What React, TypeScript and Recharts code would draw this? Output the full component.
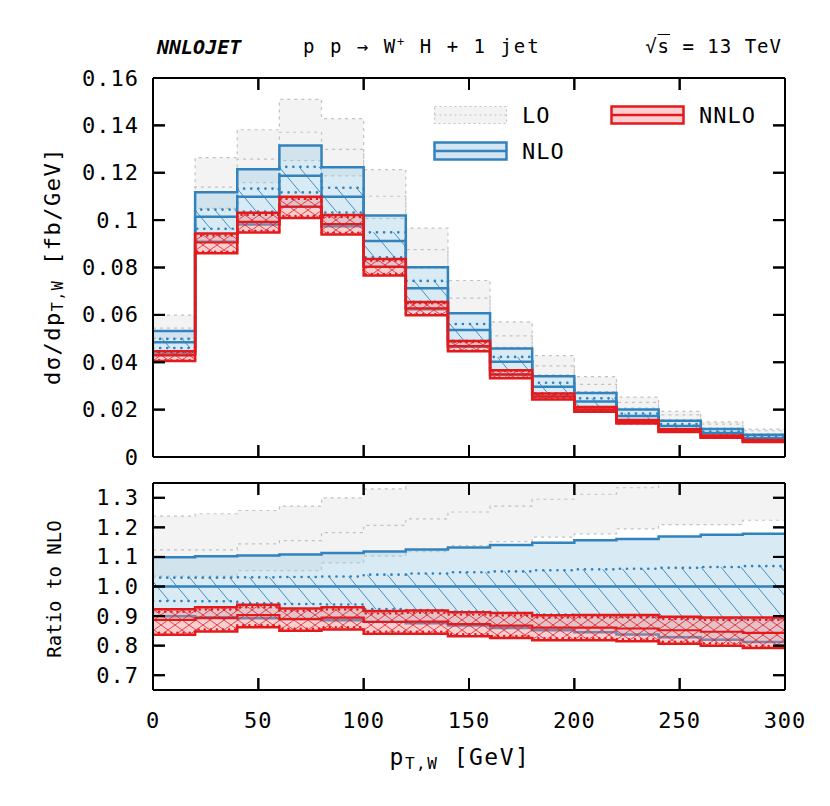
import React from "react";
import { ComposedChart, Area, XAxis, YAxis, Legend, ReferenceLine } from "recharts";

// p_T,W bins (GeV): lower edges, the last bin closes at 300
const binLow = [0, 20, 40, 60, 80, 100, 120, 140, 160, 180, 200, 220, 240, 260, 280];
const binEnd = 300;

// NLO central value, dσ/dp_T,W in fb/GeV
const nloCentral = [0.0484, 0.1014, 0.1099, 0.1187, 0.1099, 0.0912, 0.0712, 0.0536, 0.0402, 0.0297, 0.0234, 0.0173, 0.0131, 0.0101, 0.008];

// everything below is read as a ratio to the NLO central value
const loHi = [1.238, 1.246, 1.257, 1.272, 1.3, 1.33, 1.357, 1.39, 1.42, 1.44, 1.45, 1.46, 1.47, 1.47, 1.47];
const loMid = [1.124, 1.124, 1.144, 1.155, 1.182, 1.207, 1.229, 1.252, 1.272, 1.295, 1.312, 1.334, 1.355, 1.37, 1.385];
const loLo = [1.035, 1.035, 1.054, 1.054, 1.08, 1.103, 1.118, 1.138, 1.152, 1.167, 1.178, 1.195, 1.209, 1.209, 1.224];

const nloHi = [1.099, 1.102, 1.105, 1.108, 1.113, 1.118, 1.125, 1.132, 1.14, 1.148, 1.156, 1.161, 1.169, 1.175, 1.178];
const nloInHi = [1.03, 1.03, 1.031, 1.032, 1.034, 1.04, 1.044, 1.048, 1.051, 1.055, 1.058, 1.06, 1.063, 1.066, 1.069];
const nloInLo = [0.951, 0.95, 0.943, 0.941, 0.939, 0.924, 0.92, 0.915, 0.91, 0.905, 0.901, 0.898, 0.895, 0.892, 0.889];
const nloLo = [0.899, 0.896, 0.893, 0.89, 0.886, 0.881, 0.876, 0.868, 0.86, 0.852, 0.845, 0.838, 0.828, 0.82, 0.812];

const nnloHi = [0.923, 0.93, 0.938, 0.926, 0.93, 0.917, 0.919, 0.913, 0.91, 0.903, 0.904, 0.904, 0.898, 0.895, 0.895];
const nnloInHi = [0.915, 0.922, 0.93, 0.918, 0.922, 0.909, 0.911, 0.905, 0.902, 0.895, 0.896, 0.896, 0.89, 0.887, 0.887];
const nnloMid = [0.887, 0.893, 0.903, 0.89, 0.895, 0.88, 0.881, 0.873, 0.868, 0.861, 0.861, 0.858, 0.852, 0.847, 0.843];
const nnloInLo = [0.844, 0.855, 0.869, 0.857, 0.862, 0.847, 0.847, 0.839, 0.833, 0.825, 0.825, 0.822, 0.813, 0.807, 0.799];
const nnloLo = [0.837, 0.848, 0.862, 0.85, 0.855, 0.84, 0.84, 0.832, 0.826, 0.818, 0.818, 0.815, 0.806, 0.8, 0.792];

const xTicks = [0, 50, 100, 150, 200, 250, 300];
const mainTicks = [0, 0.02, 0.04, 0.06, 0.08, 0.1, 0.12, 0.14, 0.16];
const ratioTicks = [0.7, 0.8, 0.9, 1.0, 1.1, 1.2, 1.3];

const FONT = '"DejaVu Sans Mono", monospace';
const BLUE = "#3282be";
const RED = "#e31a1c";
const GREY = "#c2c2c2";

// layout (svg coordinates of each chart)
const PLOT_LEFT = 153;
const PLOT_RIGHT = 785;
const MAIN_TOP = 78;
const MAIN_BOTTOM = 457;
const RATIO_TOP = 13;
const RATIO_BOTTOM = 220;
const TICK_LEN = 12;

const X_DOMAIN = [0, 300];
const MAIN_DOMAIN = [0, 0.16];
const RATIO_DOMAIN = [0.65, 1.35];

// one row per bin edge; stepAfter needs the closing edge repeated
function buildRows(absolute: boolean) {
  return [...binLow, binEnd].map((x, k) => {
    const i = Math.min(k, binLow.length - 1);
    const c = absolute ? nloCentral[i] : 1;
    return {
      x,
      lo: [loLo[i] * c, loHi[i] * c],
      loMid: loMid[i] * c,
      nlo: [nloLo[i] * c, nloHi[i] * c],
      nloIn: [nloInLo[i] * c, nloInHi[i] * c],
      nloMid: c,
      nnlo: [nnloLo[i] * c, nnloHi[i] * c],
      nnloIn: [nnloInLo[i] * c, nnloInHi[i] * c],
      nnloMid: nnloMid[i] * c,
    };
  });
}

const mainRows = buildRows(true);
const ratioRows = buildRows(false);

function patterns(p: string) {
  return (
    <defs>
      <pattern id={`${p}hatch`} width={20} height={24} patternUnits="userSpaceOnUse">
        <path d="M-2,-2.4 L22,26.4" stroke={BLUE} strokeWidth={0.9} />
      </pattern>
      <pattern id={`${p}cross`} width={14} height={10} patternUnits="userSpaceOnUse">
        <path d="M-1,-0.7 L15,10.7 M-1,10.7 L15,-0.7" stroke={RED} strokeWidth={0.8} />
      </pattern>
    </defs>
  );
}

function series(p: string) {
  const common = {
    xAxisId: "b",
    yAxisId: "l",
    type: "stepAfter" as const,
    isAnimationActive: false,
    dot: false,
    activeDot: false,
  };
  const ghost = { type: "stepAfter" as const, dataKey: "nloMid", fill: "none", stroke: "none", isAnimationActive: false, dot: false, activeDot: false };
  return [
    <Area key="lo" {...common} dataKey="lo" fill="#f3f3f3" fillOpacity={1} stroke={GREY} strokeWidth={1.2} strokeDasharray="3 4" />,
    <Area key="loMid" {...common} dataKey="loMid" fill="none" stroke={GREY} strokeWidth={1.2} strokeDasharray="3 4" />,
    <Area key="nlo" {...common} dataKey="nlo" fill="#9ecae1" fillOpacity={0.4} stroke={BLUE} strokeWidth={2.5} />,
    <Area key="nloIn" {...common} dataKey="nloIn" fill={`url(#${p}hatch)`} fillOpacity={1} stroke={BLUE} strokeWidth={2.6} strokeDasharray="0.1 7" strokeLinecap="round" />,
    <Area key="nloMid" {...common} dataKey="nloMid" fill="none" stroke={BLUE} strokeWidth={2.5} />,
    <Area key="nnlo" {...common} dataKey="nnlo" fill="#f4868c" fillOpacity={0.4} stroke={RED} strokeWidth={2.5} />,
    <Area key="nnloX" {...common} dataKey="nnlo" fill={`url(#${p}cross)`} fillOpacity={1} stroke="none" />,
    <Area key="nnloIn" {...common} dataKey="nnloIn" fill="none" stroke={RED} strokeWidth={2.4} strokeDasharray="0.1 6" strokeLinecap="round" />,
    <Area key="nnloMid" {...common} dataKey="nnloMid" fill="none" stroke={RED} strokeWidth={2.2} />,
    // invisible copies tied to the frame axes so Recharts draws them
    <Area key="g1" {...ghost} xAxisId="t" yAxisId="r" />,
    <Area key="g2" {...ghost} xAxisId="bm" yAxisId="lm" />,
  ];
}

// inward tick marks on all four sides, as short reference segments
function tickMarks(yDomain: number[], yTicks: number[], top: number, bottom: number) {
  const dx = (TICK_LEN * (X_DOMAIN[1] - X_DOMAIN[0])) / (PLOT_RIGHT - PLOT_LEFT);
  const dy = (TICK_LEN * (yDomain[1] - yDomain[0])) / (bottom - top);
  const style = { xAxisId: "b", yAxisId: "l", stroke: "#000", strokeWidth: 2, ifOverflow: "visible" as const };
  const out: React.ReactNode[] = [];
  xTicks.forEach((v) => {
    out.push(<ReferenceLine key={`xb${v}`} {...style} segment={[{ x: v, y: yDomain[0] }, { x: v, y: yDomain[0] + dy }]} />);
    out.push(<ReferenceLine key={`xt${v}`} {...style} segment={[{ x: v, y: yDomain[1] - dy }, { x: v, y: yDomain[1] }]} />);
  });
  yTicks.forEach((v) => {
    out.push(<ReferenceLine key={`yl${v}`} {...style} segment={[{ x: X_DOMAIN[0], y: v }, { x: X_DOMAIN[0] + dx, y: v }]} />);
    out.push(<ReferenceLine key={`yr${v}`} {...style} segment={[{ x: X_DOMAIN[1] - dx, y: v }, { x: X_DOMAIN[1], y: v }]} />);
  });
  return out;
}

const axisLine = { stroke: "#000", strokeWidth: 2 };
const textStyle = { fill: "#000", fontSize: 22, fontFamily: FONT, letterSpacing: 1 };

// y tick: label plus inward marks on the left and right frame
function yTick(fmt: (v: number) => string) {
  return (p: any) => (
    <g>
      <text x={p.x} y={p.y} textAnchor="end" dominantBaseline="central" {...textStyle}>
        {fmt(p.payload.value)}
      </text>
      <line x1={PLOT_LEFT} x2={PLOT_LEFT + TICK_LEN} y1={p.y} y2={p.y} stroke="#000" strokeWidth={2} />
      <line x1={PLOT_RIGHT - TICK_LEN} x2={PLOT_RIGHT} y1={p.y} y2={p.y} stroke="#000" strokeWidth={2} />
    </g>
  );
}

// x tick: optional label plus inward marks on the bottom and top frame
function xTick(top: number, bottom: number, withLabel: boolean) {
  return (p: any) => (
    <g>
      {withLabel && (
        <text x={p.x} y={p.y} dy="0.78em" textAnchor="middle" {...textStyle}>
          {p.payload.value}
        </text>
      )}
      <line x1={p.x} x2={p.x} y1={bottom} y2={bottom - TICK_LEN} stroke="#000" strokeWidth={2} />
      <line x1={p.x} x2={p.x} y1={top} y2={top + TICK_LEN} stroke="#000" strokeWidth={2} />
    </g>
  );
}

// mirrored 1px axes: just the frame lines
function frame(yDomain: number[], yTicks: number[]) {
  const x = { type: "number" as const, dataKey: "x", domain: X_DOMAIN, ticks: xTicks, tick: false, tickLine: false, mirror: true, height: 1, axisLine, allowDataOverflow: true };
  const y = { type: "number" as const, domain: yDomain, ticks: yTicks, tick: false, tickLine: false, mirror: true, width: 1, axisLine, allowDataOverflow: true };
  return [
    <XAxis key="bm" xAxisId="bm" orientation="bottom" {...x} />,
    <XAxis key="t" xAxisId="t" orientation="top" {...x} />,
    <YAxis key="lm" yAxisId="lm" orientation="left" {...y} />,
    <YAxis key="r" yAxisId="r" orientation="right" {...y} />,
  ];
}

function MainYTitle() {
  const cx = 52;
  const cy = 266;
  return (
    <text x={cx} y={cy} transform={`rotate(-90 ${cx} ${cy})`} textAnchor="middle" dominantBaseline="central" fontFamily={FONT} fontSize={22} fill="#000" letterSpacing={1.5}>
      dσ/dp<tspan dy={6} fontSize={15}>T,W</tspan>
      <tspan dy={-6}> [fb/GeV]</tspan>
    </text>
  );
}

function RatioYTitle() {
  const cx = 54;
  const cy = 119;
  return (
    <text x={cx} y={cy} transform={`rotate(-90 ${cx} ${cy})`} textAnchor="middle" dominantBaseline="central" fontFamily={FONT} fontSize={19} fill="#000">
      Ratio to NLO
    </text>
  );
}

function XTitle() {
  return (
    <text x={460} y={287} textAnchor="middle" dominantBaseline="central" fontFamily={FONT} fontSize={23} fill="#000" letterSpacing={1.5}>
      p<tspan dy={6} fontSize={16}>T,W</tspan>
      <tspan dy={-6}> [GeV]</tspan>
    </text>
  );
}

const legendItems = [
  { name: "LO", left: 3, top: 5, fill: "#f3f3f3", stroke: GREY, width: 1.2, dash: "2 3" },
  { name: "NNLO", left: 180, top: 5, fill: "#fbd0d3", stroke: RED, width: 2.5, dash: undefined },
  { name: "NLO", left: 3, top: 41, fill: "#d4e5f1", stroke: BLUE, width: 2.5, dash: undefined },
];

function LegendBox() {
  return (
    <div style={{ position: "relative", width: 360, height: 70, fontFamily: FONT, fontSize: 22, color: "#000" }}>
      {legendItems.map((it) => (
        <div key={it.name} style={{ position: "absolute", left: it.left, top: it.top, display: "flex", alignItems: "center", height: 20 }}>
          <svg width={75} height={20}>
            <rect x={1.5} y={1.5} width={72} height={17} fill={it.fill} stroke={it.stroke} strokeWidth={it.width} strokeDasharray={it.dash} />
            <line x1={1.5} x2={73.5} y1={10} y2={10} stroke={it.stroke} strokeWidth={it.width} strokeDasharray={it.dash} />
          </svg>
          <span style={{ marginLeft: 14, letterSpacing: 1 }}>{it.name}</span>
        </div>
      ))}
    </div>
  );
}

export default function App() {
  return (
    <div style={{ position: "absolute", left: 0, top: 0, width: 830, height: 806, background: "#fff", fontFamily: FONT }}>
      <div style={{ position: "absolute", left: 157, top: 35, fontSize: 20, fontWeight: "bold", fontStyle: "italic" }}>NNLOJET</div>
      <div style={{ position: "absolute", left: 303, top: 35, fontSize: 19, letterSpacing: 2 }}>
        p p → W<sup style={{ fontSize: 12 }}>+</sup> H + 1 jet
      </div>
      <div style={{ position: "absolute", right: 48, top: 35, fontSize: 19, letterSpacing: 1 }}>
        √<span style={{ textDecoration: "overline" }}>s</span> = 13 TeV
      </div>

      <div style={{ position: "absolute", left: 0, top: 0 }}>
        <ComposedChart width={830} height={470} data={mainRows} margin={{ top: MAIN_TOP, right: 830 - PLOT_RIGHT, bottom: 470 - MAIN_BOTTOM - 1, left: 0 }}>
          {patterns("m")}
          {frame(MAIN_DOMAIN, mainTicks)}
          <XAxis
            xAxisId="b"
            dataKey="x"
            type="number"
            domain={X_DOMAIN}
            ticks={xTicks}
            interval={0}
            tickSize={0}
            tickMargin={0}
            height={1}
            tick={xTick(MAIN_TOP, MAIN_BOTTOM, false)}
            axisLine={false}
            tickLine={false}
            allowDataOverflow
          />
          <YAxis
            yAxisId="l"
            type="number"
            domain={MAIN_DOMAIN}
            ticks={mainTicks}
            interval={0}
            tickSize={0}
            tickMargin={14}
            width={PLOT_LEFT}
            tick={yTick((v) => String(parseFloat(v.toFixed(2))))}
            axisLine={false}
            tickLine={false}
            allowDataOverflow
            label={<MainYTitle />}
          />
          {series("m")}
          {tickMarks(MAIN_DOMAIN, mainTicks, MAIN_TOP, MAIN_BOTTOM)}
          <Legend layout="horizontal" verticalAlign="middle" align="center" wrapperStyle={{ left: 430, top: 100, width: 360, height: 70 }} content={() => <LegendBox />} />
        </ComposedChart>
      </div>

      <div style={{ position: "absolute", left: 0, top: 470 }}>
        <ComposedChart width={830} height={336} data={ratioRows} margin={{ top: RATIO_TOP, right: 830 - PLOT_RIGHT, bottom: 0, left: 0 }}>
          {patterns("r")}
          {frame(RATIO_DOMAIN, ratioTicks)}
          <XAxis
            xAxisId="b"
            dataKey="x"
            type="number"
            domain={X_DOMAIN}
            ticks={xTicks}
            interval={0}
            tickSize={0}
            tickMargin={21}
            height={336 - RATIO_BOTTOM}
            tick={xTick(RATIO_TOP, RATIO_BOTTOM, true)}
            axisLine={false}
            tickLine={false}
            allowDataOverflow
            label={<XTitle />}
          />
          <YAxis
            yAxisId="l"
            type="number"
            domain={RATIO_DOMAIN}
            ticks={ratioTicks}
            interval={0}
            tickSize={0}
            tickMargin={14}
            width={PLOT_LEFT}
            tick={yTick((v) => v.toFixed(1))}
            axisLine={false}
            tickLine={false}
            allowDataOverflow
            label={<RatioYTitle />}
          />
          {series("r")}
          {tickMarks(RATIO_DOMAIN, ratioTicks, RATIO_TOP, RATIO_BOTTOM)}
        </ComposedChart>
      </div>
    </div>
  );
}
